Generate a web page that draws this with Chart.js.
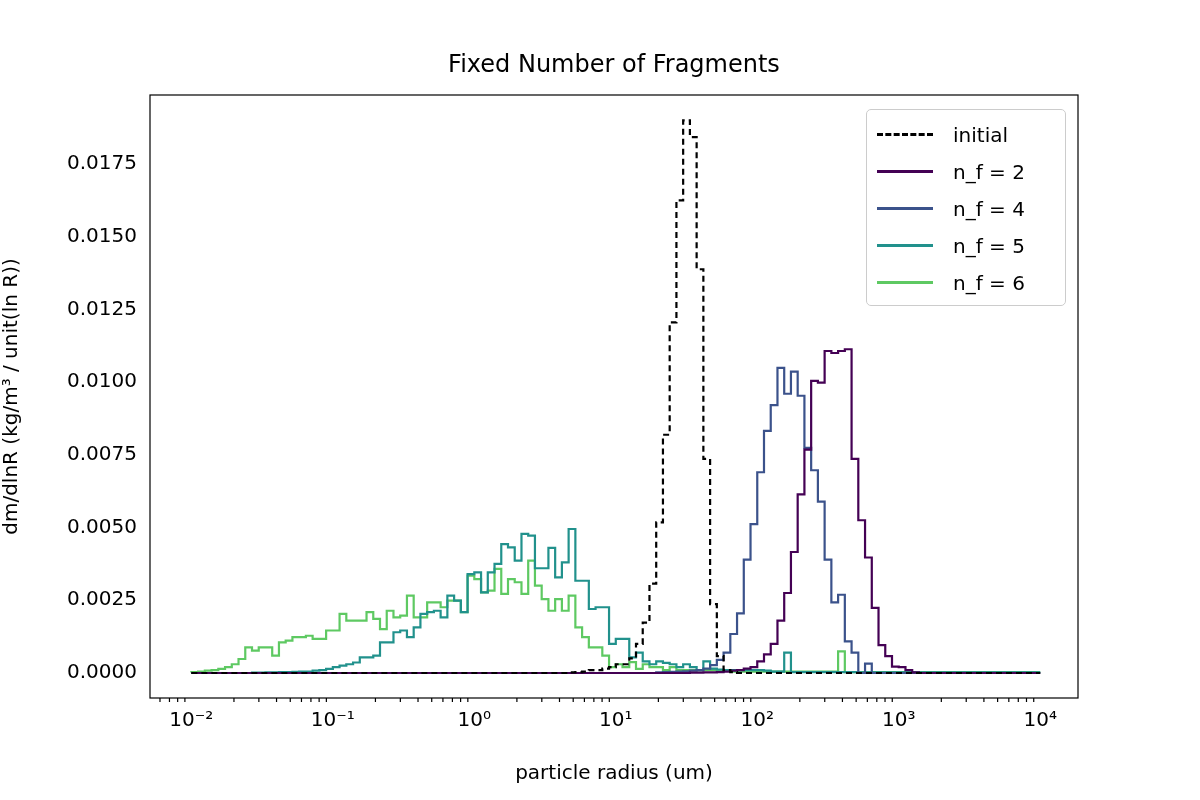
<!DOCTYPE html>
<html>
<head>
<meta charset="utf-8">
<script src="https://cdn.jsdelivr.net/npm/chart.js@4/dist/chart.umd.min.js"></script>
<style>
  body { margin: 0; background: #fff; font-family: "DejaVu Sans", sans-serif; }
  #wrap { position: relative; width: 1200px; height: 800px; }
  #title { position: absolute; top: 50px; left: 150px; width: 928px; text-align: center; font-size: 24px; color: #000; }
  #legend { position: absolute; top: 109px; left: 866px; width: 198px; border: 1.5px solid #ccc; border-radius: 5px;
            background: rgba(255,255,255,0.8); padding: 6px 0 4px 0; font-size: 20px; }
  .item { height: 37px; display: flex; align-items: center; }
  .sw { width: 56px; margin: 0 20px 0 10px; border-top: 3px solid; }
</style>
</head>
<body>
<div id="wrap">
  <canvas id="c" width="1200" height="800"></canvas>
  <div id="title">Fixed Number of Fragments</div>
  <div id="legend"></div>
</div>
<script>
// 126 log-spaced bins from 1e-2 to 1e4
const nBins = 126;
const binEdges = [];
for (let i = 0; i <= nBins; i++) binEdges.push(Math.pow(10, -2 + 6 * i / nBins));

const xTickPowers = [-2, -1, 0, 1, 2, 3, 4];
const yTicks = [0, 0.0025, 0.005, 0.0075, 0.01, 0.0125, 0.015, 0.0175];

const initial = [
  0,0,0,0,0,0,0,0,0,0,
  0,0,0,0,0,0,0,0,0,0,
  0,0,0,0,0,0,0,0,0,0,
  0,0,0,0,0,0,0,0,0,0,
  0,0,0,0,0,0,0,0,0,0,
  0,0,0,0,0,0,0,0.00002,0.00003,0.00005,
  0.0001,0.0001,0.00015,0.0002,0.0003,0.0003,0.0005,0.001,0.00173,0.00307,
  0.00518,0.00819,0.01205,0.01625,0.0190,0.01842,0.01388,0.00736,0.00237,0.00058,
  0.0001,0.00003,0,0,0,0,0,0,0,0,
  0,0,0,0,0,0,0,0,0,0,
  0,0,0,0,0,0,0,0,0,0,
  0,0,0,0,0,0,0,0,0,0,
  0,0,0,0,0,0
];
const nf2 = [
  0,0,0,0,0,0,0,0,0,0,
  0,0,0,0,0,0,0,0,0,0,
  0,0,0,0,0,0,0,0,0,0,
  0,0,0,0,0,0,0,0,0,0,
  0,0,0,0,0,0,0,0,0,0,
  0,0,0,0,0,0,0,0,0,0,
  0,0,0,0,0,0,0,0,0,0,
  0,0,0,0,0,0.00001,0.00001,0.00002,0.00002,0.00003,
  0.00005,0.00008,0.0001,0.00015,0.0002,0.0004,0.00064,0.001,0.0018,0.00275,
  0.00416,0.00614,0.00768,0.01004,0.00998,0.01107,0.0110,0.01107,0.01113,0.00736,
  0.00525,0.00397,0.00224,0.00096,0.00058,0.00022,0.0002,0.0001,0.00002,0,
  0,0,0,0,0,0,0,0,0,0,
  0,0,0,0,0,0
];
const nf4 = [
  0,0,0,0,0,0,0,0,0,0,
  0,0,0,0,0,0,0,0,0,0,
  0,0,0,0,0,0,0,0,0,0,
  0,0,0,0,0,0,0,0,0,0,
  0,0,0,0,0,0,0,0,0,0,
  0,0,0,0,0,0,0,0,0,0,
  0,0,0,0,0,0,0,0,0,0,
  0.00002,0.00003,0.00004,0.00005,0.00006,0.00008,0.0001,0.00015,0.00027,0.00045,
  0.0007,0.00134,0.00205,0.0039,0.00512,0.0069,0.00832,0.00921,0.01049,0.0096,
  0.01036,0.00953,0.00774,0.00697,0.00589,0.0039,0.00243,0.00269,0.00109,0.0007,
  0,0.00032,0,0,0,0,0,0,0,0,
  0,0,0,0,0,0,0,0,0,0,
  0,0,0,0,0,0
];
const nf5 = [
  0,0,0,0,0,0,0,0,0,0,
  0.00001,0.00001,0.00002,0.00002,0.00003,0.00003,0.00004,0.00005,0.00005,0.00008,
  0.0001,0.00014,0.0002,0.00025,0.0003,0.00036,0.00054,0.00054,0.0006,0.00105,
  0.00105,0.0014,0.00146,0.00123,0.00157,0.00203,0.00209,0.00214,0.00191,0.00266,
  0.00249,0.00209,0.0034,0.00346,0.00277,0.00346,0.00375,0.00443,0.00432,0.00386,
  0.00478,0.00472,0.0036,0.0036,0.0043,0.00329,0.0038,0.00495,0.00317,0.00317,
  0.0022,0.00226,0.00226,0.001,0.00117,0.00117,0.00054,0.0007,0.0004,0.0003,
  0.0004,0.00035,0.0003,0.0002,0.0003,0.0002,0.0001,0.0004,0.00015,0.00012,
  0.0001,0.0001,0.0001,0.0001,0.0001,0.0001,0.00008,0.00005,0.00005,0.0007,
  0.00003,0.00003,0.00003,0.00003,0.00003,0.00003,0.00003,0.00003,0.00003,0.00003,
  0.00002,0.00002,0.00002,0.00002,0.00002,0.00002,0.00002,0.00002,0.00002,0.00002,
  0.00002,0.00002,0.00002,0.00002,0.00002,0.00002,0.00002,0.00002,0.00002,0.00002,
  0.00002,0.00002,0.00002,0.00002,0.00002,0.00002
];
const nf6 = [
  0.00002,0.00003,0.00005,0.00008,0.0001,0.00014,0.0002,0.0003,0.00048,0.00088,
  0.00077,0.00088,0.00088,0.0006,0.00105,0.00111,0.00123,0.00123,0.00128,0.00117,
  0.00117,0.00146,0.00146,0.00203,0.0018,0.0018,0.0018,0.00209,0.00186,0.00151,
  0.00214,0.00191,0.00197,0.00266,0.00191,0.00191,0.00243,0.00243,0.00226,0.00249,
  0.00249,0.00209,0.00335,0.00323,0.00277,0.00283,0.00358,0.00272,0.00323,0.00312,
  0.00272,0.00386,0.003,0.00254,0.00214,0.00254,0.00214,0.00266,0.00157,0.00123,
  0.00088,0.00088,0.0006,0.0002,0.0003,0.0002,0.00037,0.00014,0.0003,0.0002,
  0.0002,0.0001,0.0002,0.0001,0.0001,0.0001,0.0001,0.0001,0.0001,0.0001,
  0.0001,0.00005,0.00005,0.00005,0.00005,0.00005,0.00005,0.00005,0.00005,0.00005,
  0.00005,0.00005,0.00005,0.00005,0.00005,0.00005,0.00005,0.00074,0.00003,0.00003,
  0.00003,0.00003,0.00003,0.00003,0.00003,0.00003,0.00003,0.00003,0.00003,0.00003,
  0.00003,0.00003,0.00003,0.00003,0.00003,0.00003,0.00003,0.00003,0.00003,0.00003,
  0.00003,0.00003,0.00003,0.00003,0.00003,0.00003
];

const series = [
  { label: 'initial', values: initial, color: '#000000', dash: [6, 4] },
  { label: 'n_f = 2', values: nf2, color: '#440154', dash: [] },
  { label: 'n_f = 4', values: nf4, color: '#3b528b', dash: [] },
  { label: 'n_f = 5', values: nf5, color: '#21918c', dash: [] },
  { label: 'n_f = 6', values: nf6, color: '#5ec962', dash: [] }
];

function stepPoints(vals) {
  const pts = vals.map((v, i) => ({ x: binEdges[i], y: v }));
  pts.push({ x: binEdges[nBins], y: vals[nBins - 1] });
  return pts;
}

const supers = { '-': '⁻', '0': '⁰', '1': '¹', '2': '²', '3': '³', '4': '⁴' };
function pow10Label(p) {
  return '10' + String(p).split('').map(ch => supers[ch]).join('');
}

const frame = {
  id: 'frame',
  afterDraw(chart) {
    const { ctx, chartArea: a, scales } = chart;
    ctx.save();
    ctx.strokeStyle = '#000';
    ctx.lineWidth = 1.2;
    ctx.strokeRect(a.left, a.top, a.right - a.left, a.bottom - a.top);
    // minor log ticks
    ctx.beginPath();
    for (let p = -3; p <= 4; p++) {
      for (let k = 2; k <= 9; k++) {
        const v = k * Math.pow(10, p);
        const px = scales.x.getPixelForValue(v);
        if (px < a.left || px > a.right) continue;
        ctx.moveTo(px, a.bottom);
        ctx.lineTo(px, a.bottom + 4);
      }
    }
    ctx.stroke();
    ctx.restore();
  }
};

Chart.defaults.font.family = '"DejaVu Sans", sans-serif';

new Chart(document.getElementById('c'), {
  type: 'line',
  data: {
    datasets: series.map(s => ({
      label: s.label,
      data: stepPoints(s.values),
      borderColor: s.color,
      borderDash: s.dash,
      borderWidth: 2.2,
      pointRadius: 0,
      stepped: 'after',
      fill: false
    }))
  },
  options: {
    responsive: false,
    animation: false,
    devicePixelRatio: 1,
    layout: { padding: { top: 95, right: 122, bottom: 0, left: 0 } },
    plugins: { legend: { display: false }, title: { display: false }, tooltip: { enabled: false } },
    scales: {
      x: {
        type: 'logarithmic',
        min: 0.0051,
        max: 18500,
        grid: { display: false, drawTicks: true, tickLength: 7, tickColor: '#000' },
        border: { display: false },
        afterBuildTicks: sc => { sc.ticks = xTickPowers.map(p => ({ value: Math.pow(10, p), major: true })); },
        ticks: {
          color: '#000', font: { size: 20 }, maxRotation: 0, autoSkip: false, padding: 4,
          callback: v => pow10Label(Math.round(Math.log10(v)))
        },
        title: { display: true, text: 'particle radius (um)', color: '#000', font: { size: 20 }, padding: { top: 6, bottom: 14 } },
        afterFit: sc => { sc.height = 102; }
      },
      y: {
        type: 'linear',
        min: -0.00086,
        max: 0.01987,
        grid: { display: false, drawTicks: true, tickLength: 7, tickColor: '#000' },
        border: { display: false },
        afterBuildTicks: sc => { sc.ticks = yTicks.map(v => ({ value: v })); },
        ticks: { color: '#000', font: { size: 20 }, padding: 6, callback: v => v.toFixed(4) },
        title: { display: true, text: 'dm/dlnR (kg/m³ / unit(ln R))', color: '#000', font: { size: 20 }, padding: { top: 0, bottom: 2 } },
        afterFit: sc => { sc.width = 150; }
      }
    }
  },
  plugins: [frame]
});

const leg = document.getElementById('legend');
series.forEach(s => {
  const d = document.createElement('div');
  d.className = 'item';
  const sw = document.createElement('span');
  sw.className = 'sw';
  sw.style.borderTopColor = s.color;
  if (s.dash.length) sw.style.borderTopStyle = 'dashed';
  d.appendChild(sw);
  d.appendChild(document.createTextNode(s.label));
  leg.appendChild(d);
});
</script>
</body>
</html>
